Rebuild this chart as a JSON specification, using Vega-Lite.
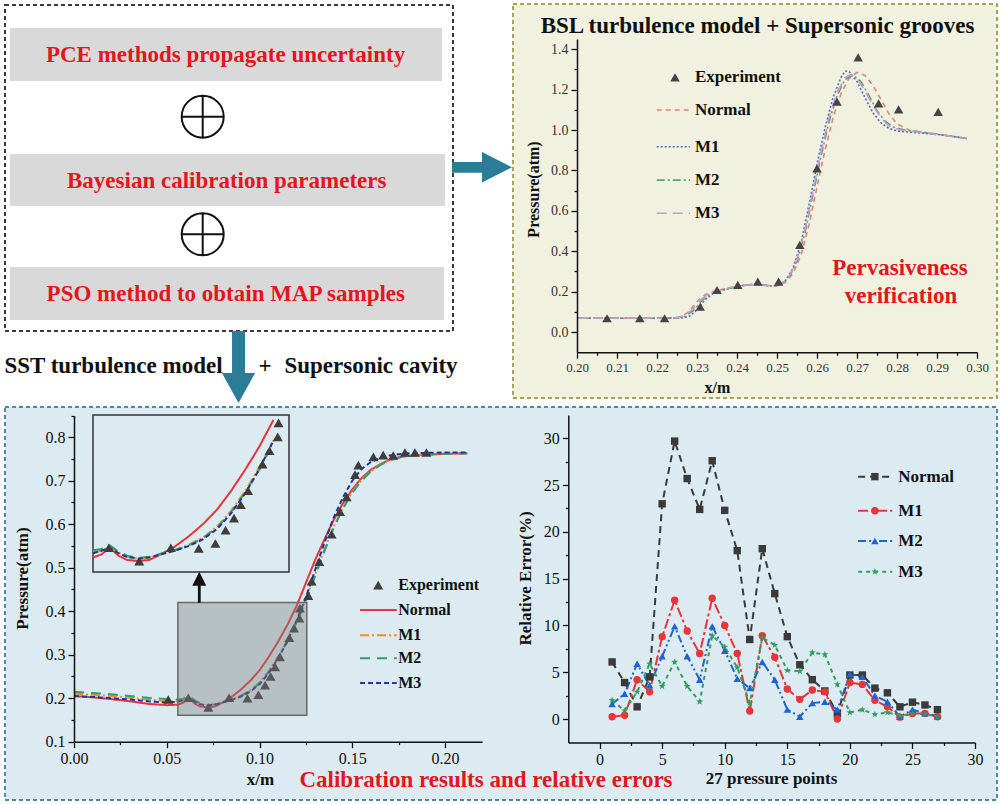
{
"$schema":"https://vega.github.io/schema/vega-lite/v6.json",
"width":1002,"height":804,"autosize":{"type":"none"},"padding":0,"background":"#ffffff",
"config":{
 "view":{"stroke":null},
 "axis":{"grid":false,"zindex":1,"labelFont":"Liberation Serif","titleFont":"Liberation Serif","labelColor":"#111","titleColor":"#111","domainColor":"#111","tickColor":"#111","domainWidth":1.5,"tickWidth":1.3,"tickSize":5,"labelFontSize":16,"titleFontSize":17,"titleFontWeight":"bold","labelFlush":false,"labelOverlap":false,"labelPadding":3},
 "text":{"font":"Liberation Serif"},
 "line":{"strokeCap":"butt"}
},
"datasets":{
 "panels":[{"panel":"flow","x":5,"x2":453,"y":5,"y2":331},{"panel":"bsl","x":513,"x2":997,"y":4,"y2":398},{"panel":"sst","x":5,"x2":997,"y":407,"y2":800}],
 "steps":[{"x":10,"x2":442,"y":28,"y2":81},{"x":10,"x2":445,"y":154,"y2":206},{"x":10,"x2":444,"y":267,"y2":320}],
 "oplus":[{"x":202.7,"y":116.7},{"x":202.7,"y":234.3}],
 "arrows":[{"arrow":"to BSL","x":482,"y":167.3},{"arrow":"to SST","x":238.5,"y":367},{"arrow":"zoom","x":199.3,"y":587.3}],
 "frames":[{"x":93,"x2":289,"y":415,"y2":572}],
 "black_text":[{"text":"BSL turbulence model + Supersonic grooves","x":757.5,"y":26},{"text":"SST turbulence model","x":113.5,"y":366},{"text":"+","x":265,"y":366},{"text":"Supersonic cavity","x":371,"y":366}],
 "red_text":[{"text":"PCE methods propagate uncertainty","x":225.5,"y":55},{"text":"Bayesian calibration parameters","x":226.7,"y":181},{"text":"PSO method to obtain MAP samples","x":225.8,"y":294},{"text":"Pervasiveness","x":900,"y":267.5},{"text":"verification","x":901,"y":295.5},{"text":"Calibration results and relative errors","x":486,"y":780}],
 "bsl":[
  {"s":"Normal","x":0.2,"p":0.068},{"s":"Normal","x":0.21,"p":0.068},{"s":"Normal","x":0.22,"p":0.068},{"s":"Normal","x":0.224,"p":0.069},{"s":"Normal","x":0.226,"p":0.076},{"s":"Normal","x":0.228,"p":0.1},{"s":"Normal","x":0.23,"p":0.15},{"s":"Normal","x":0.232,"p":0.185},{"s":"Normal","x":0.234,"p":0.2},{"s":"Normal","x":0.236,"p":0.21},{"s":"Normal","x":0.238,"p":0.218},{"s":"Normal","x":0.24,"p":0.225},{"s":"Normal","x":0.242,"p":0.232},{"s":"Normal","x":0.244,"p":0.236},{"s":"Normal","x":0.246,"p":0.236},{"s":"Normal","x":0.248,"p":0.229},{"s":"Normal","x":0.25,"p":0.228},{"s":"Normal","x":0.252,"p":0.245},{"s":"Normal","x":0.254,"p":0.29},{"s":"Normal","x":0.256,"p":0.38},{"s":"Normal","x":0.258,"p":0.53},{"s":"Normal","x":0.26,"p":0.72},{"s":"Normal","x":0.262,"p":0.9},{"s":"Normal","x":0.264,"p":1.06},{"s":"Normal","x":0.266,"p":1.18},{"s":"Normal","x":0.268,"p":1.255},{"s":"Normal","x":0.27,"p":1.285},{"s":"Normal","x":0.272,"p":1.27},{"s":"Normal","x":0.274,"p":1.22},{"s":"Normal","x":0.276,"p":1.15},{"s":"Normal","x":0.278,"p":1.08},{"s":"Normal","x":0.28,"p":1.03},{"s":"Normal","x":0.283,"p":1.0},{"s":"Normal","x":0.286,"p":0.99},{"s":"Normal","x":0.29,"p":0.98},{"s":"Normal","x":0.294,"p":0.968},{"s":"Normal","x":0.2975,"p":0.958},
  {"s":"M1","x":0.2,"p":0.068},{"s":"M1","x":0.21,"p":0.068},{"s":"M1","x":0.22,"p":0.068},{"s":"M1","x":0.226,"p":0.069},{"s":"M1","x":0.228,"p":0.076},{"s":"M1","x":0.23,"p":0.11},{"s":"M1","x":0.232,"p":0.16},{"s":"M1","x":0.234,"p":0.19},{"s":"M1","x":0.236,"p":0.205},{"s":"M1","x":0.238,"p":0.215},{"s":"M1","x":0.24,"p":0.225},{"s":"M1","x":0.242,"p":0.232},{"s":"M1","x":0.244,"p":0.235},{"s":"M1","x":0.246,"p":0.235},{"s":"M1","x":0.248,"p":0.228},{"s":"M1","x":0.25,"p":0.23},{"s":"M1","x":0.252,"p":0.252},{"s":"M1","x":0.254,"p":0.315},{"s":"M1","x":0.256,"p":0.44},{"s":"M1","x":0.258,"p":0.63},{"s":"M1","x":0.26,"p":0.83},{"s":"M1","x":0.262,"p":1.01},{"s":"M1","x":0.264,"p":1.16},{"s":"M1","x":0.266,"p":1.26},{"s":"M1","x":0.267,"p":1.292},{"s":"M1","x":0.268,"p":1.29},{"s":"M1","x":0.27,"p":1.24},{"s":"M1","x":0.272,"p":1.16},{"s":"M1","x":0.274,"p":1.085},{"s":"M1","x":0.276,"p":1.035},{"s":"M1","x":0.278,"p":1.008},{"s":"M1","x":0.28,"p":0.995},{"s":"M1","x":0.283,"p":0.99},{"s":"M1","x":0.286,"p":0.985},{"s":"M1","x":0.29,"p":0.978},{"s":"M1","x":0.294,"p":0.968},{"s":"M1","x":0.2975,"p":0.958},
  {"s":"M2","x":0.2,"p":0.068},{"s":"M2","x":0.21,"p":0.068},{"s":"M2","x":0.22,"p":0.068},{"s":"M2","x":0.225,"p":0.069},{"s":"M2","x":0.227,"p":0.078},{"s":"M2","x":0.229,"p":0.105},{"s":"M2","x":0.231,"p":0.15},{"s":"M2","x":0.233,"p":0.185},{"s":"M2","x":0.235,"p":0.202},{"s":"M2","x":0.237,"p":0.212},{"s":"M2","x":0.239,"p":0.22},{"s":"M2","x":0.241,"p":0.228},{"s":"M2","x":0.243,"p":0.234},{"s":"M2","x":0.245,"p":0.236},{"s":"M2","x":0.247,"p":0.233},{"s":"M2","x":0.249,"p":0.228},{"s":"M2","x":0.251,"p":0.236},{"s":"M2","x":0.253,"p":0.27},{"s":"M2","x":0.255,"p":0.35},{"s":"M2","x":0.257,"p":0.49},{"s":"M2","x":0.259,"p":0.68},{"s":"M2","x":0.261,"p":0.87},{"s":"M2","x":0.263,"p":1.04},{"s":"M2","x":0.265,"p":1.17},{"s":"M2","x":0.267,"p":1.25},{"s":"M2","x":0.269,"p":1.272},{"s":"M2","x":0.271,"p":1.24},{"s":"M2","x":0.273,"p":1.17},{"s":"M2","x":0.275,"p":1.095},{"s":"M2","x":0.277,"p":1.045},{"s":"M2","x":0.279,"p":1.015},{"s":"M2","x":0.282,"p":1.0},{"s":"M2","x":0.286,"p":0.99},{"s":"M2","x":0.29,"p":0.979},{"s":"M2","x":0.294,"p":0.968},{"s":"M2","x":0.2975,"p":0.958},
  {"s":"M3","x":0.2,"p":0.068},{"s":"M3","x":0.21,"p":0.068},{"s":"M3","x":0.22,"p":0.068},{"s":"M3","x":0.225,"p":0.07},{"s":"M3","x":0.227,"p":0.082},{"s":"M3","x":0.229,"p":0.115},{"s":"M3","x":0.231,"p":0.16},{"s":"M3","x":0.233,"p":0.19},{"s":"M3","x":0.235,"p":0.204},{"s":"M3","x":0.237,"p":0.214},{"s":"M3","x":0.239,"p":0.222},{"s":"M3","x":0.241,"p":0.229},{"s":"M3","x":0.243,"p":0.234},{"s":"M3","x":0.245,"p":0.235},{"s":"M3","x":0.247,"p":0.231},{"s":"M3","x":0.249,"p":0.228},{"s":"M3","x":0.251,"p":0.238},{"s":"M3","x":0.253,"p":0.275},{"s":"M3","x":0.255,"p":0.36},{"s":"M3","x":0.257,"p":0.505},{"s":"M3","x":0.259,"p":0.7},{"s":"M3","x":0.261,"p":0.89},{"s":"M3","x":0.263,"p":1.06},{"s":"M3","x":0.265,"p":1.185},{"s":"M3","x":0.267,"p":1.26},{"s":"M3","x":0.2685,"p":1.275},{"s":"M3","x":0.27,"p":1.255},{"s":"M3","x":0.272,"p":1.195},{"s":"M3","x":0.274,"p":1.12},{"s":"M3","x":0.276,"p":1.06},{"s":"M3","x":0.278,"p":1.02},{"s":"M3","x":0.281,"p":1.0},{"s":"M3","x":0.285,"p":0.99},{"s":"M3","x":0.29,"p":0.979},{"s":"M3","x":0.294,"p":0.968},{"s":"M3","x":0.2975,"p":0.958}
 ],
 "bsl_exp":[{"x":0.2075,"p":0.068},{"x":0.2157,"p":0.068},{"x":0.2219,"p":0.068},{"x":0.2308,"p":0.125},{"x":0.235,"p":0.208},{"x":0.2402,"p":0.233},{"x":0.2452,"p":0.249},{"x":0.2504,"p":0.249},{"x":0.2557,"p":0.431},{"x":0.26,"p":0.81},{"x":0.265,"p":1.14},{"x":0.2703,"p":1.36},{"x":0.2754,"p":1.132},{"x":0.2804,"p":1.102},{"x":0.2903,"p":1.09}],
 "bsl_leg":[{"s":"Experiment","y":1.26},{"s":"Normal","y":1.099},{"s":"M1","y":0.917},{"s":"M2","y":0.752},{"s":"M3","y":0.588}],
 "bl":[
  {"s":"Normal","x":0,"p":0.205},{"s":"Normal","x":0.01,"p":0.202},{"s":"Normal","x":0.02,"p":0.198},{"s":"Normal","x":0.03,"p":0.193},{"s":"Normal","x":0.04,"p":0.187},{"s":"Normal","x":0.05,"p":0.184},{"s":"Normal","x":0.056,"p":0.185},{"s":"Normal","x":0.059,"p":0.19},{"s":"Normal","x":0.062,"p":0.201},{"s":"Normal","x":0.065,"p":0.188},{"s":"Normal","x":0.068,"p":0.181},{"s":"Normal","x":0.072,"p":0.179},{"s":"Normal","x":0.076,"p":0.181},{"s":"Normal","x":0.08,"p":0.19},{"s":"Normal","x":0.085,"p":0.203},{"s":"Normal","x":0.09,"p":0.22},{"s":"Normal","x":0.095,"p":0.24},{"s":"Normal","x":0.1,"p":0.264},{"s":"Normal","x":0.105,"p":0.295},{"s":"Normal","x":0.11,"p":0.33},{"s":"Normal","x":0.115,"p":0.368},{"s":"Normal","x":0.12,"p":0.412},{"s":"Normal","x":0.125,"p":0.465},{"s":"Normal","x":0.13,"p":0.518},{"s":"Normal","x":0.135,"p":0.565},{"s":"Normal","x":0.14,"p":0.61},{"s":"Normal","x":0.145,"p":0.648},{"s":"Normal","x":0.15,"p":0.68},{"s":"Normal","x":0.155,"p":0.706},{"s":"Normal","x":0.16,"p":0.725},{"s":"Normal","x":0.165,"p":0.738},{"s":"Normal","x":0.17,"p":0.748},{"s":"Normal","x":0.175,"p":0.754},{"s":"Normal","x":0.18,"p":0.757},{"s":"Normal","x":0.19,"p":0.76},{"s":"Normal","x":0.2,"p":0.762},{"s":"Normal","x":0.212,"p":0.763},
  {"s":"M1","x":0,"p":0.21},{"s":"M1","x":0.01,"p":0.208},{"s":"M1","x":0.02,"p":0.205},{"s":"M1","x":0.03,"p":0.201},{"s":"M1","x":0.04,"p":0.197},{"s":"M1","x":0.05,"p":0.193},{"s":"M1","x":0.056,"p":0.193},{"s":"M1","x":0.059,"p":0.196},{"s":"M1","x":0.062,"p":0.203},{"s":"M1","x":0.065,"p":0.193},{"s":"M1","x":0.068,"p":0.186},{"s":"M1","x":0.072,"p":0.183},{"s":"M1","x":0.076,"p":0.185},{"s":"M1","x":0.08,"p":0.19},{"s":"M1","x":0.085,"p":0.197},{"s":"M1","x":0.09,"p":0.206},{"s":"M1","x":0.095,"p":0.218},{"s":"M1","x":0.1,"p":0.236},{"s":"M1","x":0.105,"p":0.262},{"s":"M1","x":0.11,"p":0.295},{"s":"M1","x":0.115,"p":0.334},{"s":"M1","x":0.12,"p":0.378},{"s":"M1","x":0.125,"p":0.428},{"s":"M1","x":0.13,"p":0.485},{"s":"M1","x":0.135,"p":0.542},{"s":"M1","x":0.14,"p":0.595},{"s":"M1","x":0.145,"p":0.638},{"s":"M1","x":0.15,"p":0.674},{"s":"M1","x":0.155,"p":0.702},{"s":"M1","x":0.16,"p":0.722},{"s":"M1","x":0.165,"p":0.737},{"s":"M1","x":0.17,"p":0.747},{"s":"M1","x":0.175,"p":0.753},{"s":"M1","x":0.18,"p":0.757},{"s":"M1","x":0.19,"p":0.76},{"s":"M1","x":0.2,"p":0.762},{"s":"M1","x":0.212,"p":0.763},
  {"s":"M2","x":0,"p":0.215},{"s":"M2","x":0.01,"p":0.212},{"s":"M2","x":0.02,"p":0.209},{"s":"M2","x":0.03,"p":0.205},{"s":"M2","x":0.04,"p":0.201},{"s":"M2","x":0.05,"p":0.198},{"s":"M2","x":0.056,"p":0.197},{"s":"M2","x":0.059,"p":0.199},{"s":"M2","x":0.062,"p":0.205},{"s":"M2","x":0.065,"p":0.195},{"s":"M2","x":0.068,"p":0.188},{"s":"M2","x":0.072,"p":0.184},{"s":"M2","x":0.076,"p":0.186},{"s":"M2","x":0.08,"p":0.191},{"s":"M2","x":0.085,"p":0.197},{"s":"M2","x":0.09,"p":0.205},{"s":"M2","x":0.095,"p":0.217},{"s":"M2","x":0.1,"p":0.234},{"s":"M2","x":0.105,"p":0.26},{"s":"M2","x":0.11,"p":0.292},{"s":"M2","x":0.115,"p":0.33},{"s":"M2","x":0.12,"p":0.374},{"s":"M2","x":0.125,"p":0.424},{"s":"M2","x":0.13,"p":0.481},{"s":"M2","x":0.135,"p":0.538},{"s":"M2","x":0.14,"p":0.592},{"s":"M2","x":0.145,"p":0.636},{"s":"M2","x":0.15,"p":0.672},{"s":"M2","x":0.155,"p":0.7},{"s":"M2","x":0.16,"p":0.721},{"s":"M2","x":0.165,"p":0.736},{"s":"M2","x":0.17,"p":0.746},{"s":"M2","x":0.175,"p":0.753},{"s":"M2","x":0.18,"p":0.757},{"s":"M2","x":0.19,"p":0.76},{"s":"M2","x":0.2,"p":0.762},{"s":"M2","x":0.212,"p":0.763},
  {"s":"M3","x":0,"p":0.205},{"s":"M3","x":0.01,"p":0.203},{"s":"M3","x":0.02,"p":0.2},{"s":"M3","x":0.03,"p":0.197},{"s":"M3","x":0.04,"p":0.193},{"s":"M3","x":0.05,"p":0.19},{"s":"M3","x":0.056,"p":0.192},{"s":"M3","x":0.059,"p":0.196},{"s":"M3","x":0.062,"p":0.201},{"s":"M3","x":0.065,"p":0.192},{"s":"M3","x":0.068,"p":0.186},{"s":"M3","x":0.072,"p":0.183},{"s":"M3","x":0.076,"p":0.185},{"s":"M3","x":0.08,"p":0.19},{"s":"M3","x":0.085,"p":0.196},{"s":"M3","x":0.09,"p":0.204},{"s":"M3","x":0.095,"p":0.215},{"s":"M3","x":0.1,"p":0.232},{"s":"M3","x":0.105,"p":0.258},{"s":"M3","x":0.11,"p":0.291},{"s":"M3","x":0.115,"p":0.331},{"s":"M3","x":0.12,"p":0.378},{"s":"M3","x":0.125,"p":0.432},{"s":"M3","x":0.13,"p":0.495},{"s":"M3","x":0.135,"p":0.558},{"s":"M3","x":0.14,"p":0.615},{"s":"M3","x":0.145,"p":0.662},{"s":"M3","x":0.15,"p":0.7},{"s":"M3","x":0.155,"p":0.727},{"s":"M3","x":0.16,"p":0.743},{"s":"M3","x":0.165,"p":0.752},{"s":"M3","x":0.17,"p":0.758},{"s":"M3","x":0.175,"p":0.761},{"s":"M3","x":0.18,"p":0.763},{"s":"M3","x":0.19,"p":0.764},{"s":"M3","x":0.2,"p":0.765},{"s":"M3","x":0.212,"p":0.765}
 ],
 "bl_exp":[{"x":0.0508,"p":0.197},{"x":0.0616,"p":0.201},{"x":0.0724,"p":0.179},{"x":0.0836,"p":0.201},{"x":0.0935,"p":0.2},{"x":0.0994,"p":0.208},{"x":0.103,"p":0.23},{"x":0.106,"p":0.25},{"x":0.1084,"p":0.272},{"x":0.111,"p":0.295},{"x":0.1161,"p":0.339},{"x":0.1186,"p":0.361},{"x":0.1215,"p":0.384},{"x":0.1218,"p":0.407},{"x":0.1263,"p":0.436},{"x":0.1281,"p":0.469},{"x":0.1322,"p":0.514},{"x":0.1389,"p":0.577},{"x":0.1434,"p":0.629},{"x":0.147,"p":0.663},{"x":0.1515,"p":0.714},{"x":0.1533,"p":0.736},{"x":0.1614,"p":0.755},{"x":0.1667,"p":0.759},{"x":0.1721,"p":0.758},{"x":0.1784,"p":0.765},{"x":0.1838,"p":0.765},{"x":0.19,"p":0.765}],
 "bl_leg":[{"s":"Experiment","y":0.46},{"s":"Normal","y":0.403},{"s":"M1","y":0.345},{"s":"M2","y":0.292},{"s":"M3","y":0.235}],
 "bl_zoom":[{"x":0.056,"x2":0.1255,"y":0.161,"y2":0.42}],
 "err":[
  {"pt":1,"Normal":6.1,"M1":0.25,"M2":1.6,"M3":2.0},{"pt":2,"Normal":3.9,"M1":0.4,"M2":2.7,"M3":0.9},{"pt":3,"Normal":1.3,"M1":4.2,"M2":5.9,"M3":2.9},{"pt":4,"Normal":4.5,"M1":2.9,"M2":3.6,"M3":5.9},{"pt":5,"Normal":23.0,"M1":8.8,"M2":6.7,"M3":3.5},{"pt":6,"Normal":29.7,"M1":12.7,"M2":9.9,"M3":6.1},{"pt":7,"Normal":25.7,"M1":9.4,"M2":6.7,"M3":3.5},{"pt":8,"Normal":22.4,"M1":7.0,"M2":4.2,"M3":1.85},{"pt":9,"Normal":27.6,"M1":12.9,"M2":9.9,"M3":8.9},{"pt":10,"Normal":22.3,"M1":10.0,"M2":7.3,"M3":7.7},{"pt":11,"Normal":18.0,"M1":7.0,"M2":4.3,"M3":5.5},{"pt":12,"Normal":8.5,"M1":0.85,"M2":3.3,"M3":1.7},{"pt":13,"Normal":18.2,"M1":8.9,"M2":6.1,"M3":8.7},{"pt":14,"Normal":13.4,"M1":6.6,"M2":4.2,"M3":7.9},{"pt":15,"Normal":8.8,"M1":3.2,"M2":1.0,"M3":5.2},{"pt":16,"Normal":5.8,"M1":2.1,"M2":0.25,"M3":5.1},{"pt":17,"Normal":4.2,"M1":3.1,"M2":1.7,"M3":7.1},{"pt":18,"Normal":3.0,"M1":2.9,"M2":1.85,"M3":6.9},{"pt":19,"Normal":0.6,"M1":0.0,"M2":1.0,"M3":3.7},{"pt":20,"Normal":4.7,"M1":3.9,"M2":4.8,"M3":0.7},{"pt":21,"Normal":4.7,"M1":3.7,"M2":4.5,"M3":1.0},{"pt":22,"Normal":3.3,"M1":2.0,"M2":2.5,"M3":0.5},{"pt":23,"Normal":2.8,"M1":1.3,"M2":1.85,"M3":0.7},{"pt":24,"Normal":1.3,"M1":0.2,"M2":0.25,"M3":0.35},{"pt":25,"Normal":1.8,"M1":0.6,"M2":1.0,"M3":0.6},{"pt":26,"Normal":1.5,"M1":0.6,"M2":0.6,"M3":0.55},{"pt":27,"Normal":1.0,"M1":0.25,"M2":0.3,"M3":0.25}
 ],
 "err_leg":[{"s":"Normal","y":25.9},{"s":"M1","y":22.26},{"s":"M2","y":19.02},{"s":"M3","y":15.74}]
},
"layer":[
  {"data":{"name":"panels"},"mark":{"type":"rect","strokeWidth":2,"strokeDash":[4,3]},"encoding":{
   "x":{"field":"x","type":"quantitative","scale":{"domain":[0,1002],"range":[0,1002],"nice":false,"zero":false},"axis":null},
   "x2":{"field":"x2"},
   "y":{"field":"y","type":"quantitative","scale":{"domain":[0,804],"range":[0,804],"nice":false,"zero":false},"axis":null},
   "y2":{"field":"y2"},
   "fill":{"field":"panel","type":"nominal","scale":{"domain":["flow","bsl","sst"],"range":["#ffffff","#f0f1de","#dcebf1"]},"legend":null},
   "stroke":{"field":"panel","type":"nominal","scale":{"domain":["flow","bsl","sst"],"range":["#3a3a3a","#a9a35a","#4d8ba3"]},"legend":null}}},
  {"data":{"name":"steps"},"mark":{"type":"rect","color":"#d9d9d9"},"encoding":{
   "x":{"field":"x","type":"quantitative","scale":{"domain":[0,1002],"range":[0,1002],"nice":false,"zero":false},"axis":null},"x2":{"field":"x2"},
   "y":{"field":"y","type":"quantitative","scale":{"domain":[0,804],"range":[0,804],"nice":false,"zero":false},"axis":null},"y2":{"field":"y2"}}},
  {"data":{"name":"frames"},"mark":{"type":"rect","fill":"#dcebf1","stroke":"#333333","strokeWidth":1.5},"encoding":{
   "x":{"field":"x","type":"quantitative","scale":{"domain":[0,1002],"range":[0,1002],"nice":false,"zero":false},"axis":null},"x2":{"field":"x2"},
   "y":{"field":"y","type":"quantitative","scale":{"domain":[0,804],"range":[0,804],"nice":false,"zero":false},"axis":null},"y2":{"field":"y2"}}},
  {"data":{"name":"oplus"},"mark":{"type":"point","shape":"M-1,0A1,1,0,1,1,1,0A1,1,0,1,1,-1,0M-1,0L1,0M0,-1L0,1","size":1764,"filled":false,"stroke":"#111111","strokeWidth":2,"opacity":1},"encoding":{
   "x":{"field":"x","type":"quantitative","scale":{"domain":[0,1002],"range":[0,1002],"nice":false,"zero":false},"axis":null},
   "y":{"field":"y","type":"quantitative","scale":{"domain":[0,804],"range":[0,804],"nice":false,"zero":false},"axis":null}}},
  {"data":{"name":"arrows"},"transform":[{"filter":"datum.arrow == 'to BSL'"}],"mark":{"type":"point","shape":"M-1,-0.18L0,-0.18L0,-0.51L1,0L0,0.51L0,0.18L-1,0.18Z","size":3600,"filled":true,"color":"#2b7d97","opacity":1},"encoding":{
   "x":{"field":"x","type":"quantitative","scale":{"domain":[0,1002],"range":[0,1002],"nice":false,"zero":false},"axis":null},
   "y":{"field":"y","type":"quantitative","scale":{"domain":[0,804],"range":[0,804],"nice":false,"zero":false},"axis":null}}},
  {"data":{"name":"arrows"},"transform":[{"filter":"datum.arrow == 'to SST'"}],"mark":{"type":"point","shape":"M-0.18,-1L0.18,-1L0.18,0.17L0.46,0.17L0,1L-0.46,0.17L-0.18,0.17Z","size":5184,"filled":true,"color":"#2b7d97","opacity":1},"encoding":{
   "x":{"field":"x","type":"quantitative","scale":{"domain":[0,1002],"range":[0,1002],"nice":false,"zero":false},"axis":null},
   "y":{"field":"y","type":"quantitative","scale":{"domain":[0,804],"range":[0,804],"nice":false,"zero":false},"axis":null}}},
  {"data":{"name":"black_text"},"mark":{"type":"text","font":"Liberation Serif","fontWeight":"bold","fontSize":23,"color":"#111111","align":"center","baseline":"middle"},"encoding":{
   "x":{"field":"x","type":"quantitative","scale":{"domain":[0,1002],"range":[0,1002],"nice":false,"zero":false},"axis":null},
   "y":{"field":"y","type":"quantitative","scale":{"domain":[0,804],"range":[0,804],"nice":false,"zero":false},"axis":null},"text":{"field":"text"}}},
  {"data":{"name":"red_text"},"mark":{"type":"text","font":"Liberation Serif","fontWeight":"bold","fontSize":23,"color":"#e3161f","align":"center","baseline":"middle"},"encoding":{
   "x":{"field":"x","type":"quantitative","scale":{"domain":[0,1002],"range":[0,1002],"nice":false,"zero":false},"axis":null},
   "y":{"field":"y","type":"quantitative","scale":{"domain":[0,804],"range":[0,804],"nice":false,"zero":false},"axis":null},"text":{"field":"text"}}},

  {"data":{"name":"bsl"},"mark":{"type":"line","strokeWidth":1.6},"encoding":{
   "x":{"field":"x","type":"quantitative","scale":{"domain":[0.2,0.3],"range":[577,977],"nice":false,"zero":false},
        "axis":{"orient":"bottom","offset":-451.8,"zindex":1,"values":[0.2,0.205,0.21,0.215,0.22,0.225,0.23,0.235,0.24,0.245,0.25,0.255,0.26,0.265,0.27,0.275,0.28,0.285,0.29,0.295,0.3],"labelExpr":"abs(datum.value*100-round(datum.value*100))<0.01 ? format(datum.value,'.2f') : ''","tickSize":{"condition":{"test":"abs(datum.value*100-round(datum.value*100))<0.01","value":6},"value":3},"labelFontSize":13,"labelColor":"#333333","title":"x/m","titleX":717,"titleY":35,"titleBaseline":"middle","titleFontSize":16}},
   "y":{"field":"p","type":"quantitative","scale":{"domain":[-0.1,1.45],"range":[352.2,39.1],"nice":false,"zero":false},
        "axis":{"orient":"left","offset":-577,"zindex":1,"values":[0,0.1,0.2,0.3,0.4,0.5,0.6,0.7,0.8,0.9,1.0,1.1,1.2,1.3,1.4],"labelExpr":"abs(datum.value*5-round(datum.value*5))<0.01 ? format(datum.value,'.1f') : ''","tickSize":{"condition":{"test":"abs(datum.value*5-round(datum.value*5))<0.01","value":6},"value":3},"labelFontSize":14,"labelColor":"#333333","title":"Pressure(atm)","titleX":-44,"titleY":189,"titleBaseline":"middle","titleFontSize":16}},
   "color":{"field":"s","type":"nominal","scale":{"domain":["Normal","M1","M2","M3"],"range":["#e4837a","#4f6fbf","#5f9f80","#c79ac6"]},"legend":null},
   "strokeDash":{"field":"s","type":"nominal","scale":{"domain":["Normal","M1","M2","M3"],"range":[[5,4],[2,2],[8,3,2,3],[10,6]]},"legend":null}}},
  {"data":{"name":"bsl_exp"},"mark":{"type":"point","shape":"triangle-up","filled":true,"size":90,"color":"#444444","opacity":1},"encoding":{
   "x":{"field":"x","type":"quantitative","scale":{"domain":[0.2,0.3],"range":[577,977],"nice":false,"zero":false},"axis":null},
   "y":{"field":"p","type":"quantitative","scale":{"domain":[-0.1,1.45],"range":[352.2,39.1],"nice":false,"zero":false},"axis":null}}},
  {"data":{"name":"bsl_leg"},"transform":[{"filter":"datum.s != 'Experiment'"}],"mark":{"type":"rule","strokeWidth":1.6},"encoding":{
   "x":{"datum":0.21993,"type":"quantitative","scale":{"domain":[0.2,0.3],"range":[577,977],"nice":false,"zero":false},"axis":null},"x2":{"datum":0.22825},
   "y":{"field":"y","type":"quantitative","scale":{"domain":[-0.1,1.45],"range":[352.2,39.1],"nice":false,"zero":false},"axis":null},
   "color":{"field":"s","type":"nominal","scale":{"domain":["Normal","M1","M2","M3"],"range":["#e4837a","#4f6fbf","#5f9f80","#c79ac6"]},"legend":null},
   "strokeDash":{"field":"s","type":"nominal","scale":{"domain":["Normal","M1","M2","M3"],"range":[[5,4],[2,2],[8,3,2,3],[10,6]]},"legend":null}}},
  {"data":{"name":"bsl_leg"},"transform":[{"filter":"datum.s == 'Experiment'"}],"mark":{"type":"point","shape":"triangle-up","filled":true,"size":90,"color":"#444444","opacity":1},"encoding":{
   "x":{"datum":0.2245,"type":"quantitative","scale":{"domain":[0.2,0.3],"range":[577,977],"nice":false,"zero":false},"axis":null},
   "y":{"field":"y","type":"quantitative","scale":{"domain":[-0.1,1.45],"range":[352.2,39.1],"nice":false,"zero":false},"axis":null}}},
  {"data":{"name":"bsl_leg"},"mark":{"type":"text","font":"Liberation Serif","fontWeight":"bold","fontSize":17,"color":"#111111","align":"left","baseline":"middle"},"encoding":{
   "x":{"datum":0.2295,"type":"quantitative","scale":{"domain":[0.2,0.3],"range":[577,977],"nice":false,"zero":false},"axis":null},
   "y":{"field":"y","type":"quantitative","scale":{"domain":[-0.1,1.45],"range":[352.2,39.1],"nice":false,"zero":false},"axis":null},"text":{"field":"s"}}},

  {"data":{"name":"bl"},"mark":{"type":"line","strokeWidth":2},"encoding":{
   "x":{"field":"x","type":"quantitative","scale":{"domain":[0,0.22],"range":[74,482.1],"nice":false,"zero":false},
        "axis":{"orient":"bottom","offset":-62.3,"zindex":1,"values":[0,0.025,0.05,0.075,0.1,0.125,0.15,0.175,0.2],"labelExpr":"abs(datum.value*20-round(datum.value*20))<0.01 ? format(datum.value,'.2f') : ''","tickSize":{"condition":{"test":"abs(datum.value*20-round(datum.value*20))<0.01","value":6},"value":3},"title":"x/m","titleX":260,"titleY":38,"titleBaseline":"middle"}},
   "y":{"field":"p","type":"quantitative","scale":{"domain":[0.1,0.85],"range":[741.7,415.5],"nice":false,"zero":false},
        "axis":{"orient":"left","offset":-74,"zindex":1,"values":[0.1,0.15,0.2,0.25,0.3,0.35,0.4,0.45,0.5,0.55,0.6,0.65,0.7,0.75,0.8,0.85],"labelExpr":"abs(datum.value*10-round(datum.value*10))<0.01 ? format(datum.value,'.1f') : ''","tickSize":{"condition":{"test":"abs(datum.value*10-round(datum.value*10))<0.01","value":6},"value":3},"title":"Pressure(atm)","titleX":-52,"titleY":578,"titleBaseline":"middle"}},
   "color":{"field":"s","type":"nominal","scale":{"domain":["Normal","M1","M2","M3"],"range":["#e8353b","#f28c28","#2f9e73","#23339e"]},"legend":null},
   "strokeDash":{"field":"s","type":"nominal","scale":{"domain":["Normal","M1","M2","M3"],"range":[[1,0],[9,3,2,3],[10,7],[5,3]]},"legend":null}}},
  {"data":{"name":"bl_exp"},"mark":{"type":"point","shape":"triangle-up","filled":true,"size":100,"color":"#3d3d3d","opacity":1},"encoding":{
   "x":{"field":"x","type":"quantitative","scale":{"domain":[0,0.22],"range":[74,482.1],"nice":false,"zero":false},"axis":null},
   "y":{"field":"p","type":"quantitative","scale":{"domain":[0.1,0.85],"range":[741.7,415.5],"nice":false,"zero":false},"axis":null}}},
  {"data":{"name":"bl_zoom"},"mark":{"type":"rect","fill":"#7f7f7f","fillOpacity":0.4,"stroke":"#6a6a6a","strokeWidth":1.5},"encoding":{
   "x":{"field":"x","type":"quantitative","scale":{"domain":[0,0.22],"range":[74,482.1],"nice":false,"zero":false},"axis":null},"x2":{"field":"x2"},
   "y":{"field":"y","type":"quantitative","scale":{"domain":[0.1,0.85],"range":[741.7,415.5],"nice":false,"zero":false},"axis":null},"y2":{"field":"y2"}}},
  {"data":{"name":"arrows"},"transform":[{"filter":"datum.arrow == 'zoom'"}],"mark":{"type":"point","shape":"M0,-1L0.45,-0.1L0.09,-0.1L0.09,1L-0.09,1L-0.09,-0.1L-0.45,-0.1Z","size":961,"filled":true,"color":"#111111","opacity":1},"encoding":{
   "x":{"field":"x","type":"quantitative","scale":{"domain":[0,1002],"range":[0,1002],"nice":false,"zero":false},"axis":null},
   "y":{"field":"y","type":"quantitative","scale":{"domain":[0,804],"range":[0,804],"nice":false,"zero":false},"axis":null}}},
  {"data":{"name":"bl_leg"},"transform":[{"filter":"datum.s != 'Experiment'"}],"mark":{"type":"rule","strokeWidth":2},"encoding":{
   "x":{"datum":0.1542,"type":"quantitative","scale":{"domain":[0,0.22],"range":[74,482.1],"nice":false,"zero":false},"axis":null},"x2":{"datum":0.174},
   "y":{"field":"y","type":"quantitative","scale":{"domain":[0.1,0.85],"range":[741.7,415.5],"nice":false,"zero":false},"axis":null},
   "color":{"field":"s","type":"nominal","scale":{"domain":["Normal","M1","M2","M3"],"range":["#e8353b","#f28c28","#2f9e73","#23339e"]},"legend":null},
   "strokeDash":{"field":"s","type":"nominal","scale":{"domain":["Normal","M1","M2","M3"],"range":[[1,0],[9,3,2,3],[10,7],[5,3]]},"legend":null}}},
  {"data":{"name":"bl_leg"},"transform":[{"filter":"datum.s == 'Experiment'"}],"mark":{"type":"point","shape":"triangle-up","filled":true,"size":100,"color":"#3d3d3d","opacity":1},"encoding":{
   "x":{"datum":0.164,"type":"quantitative","scale":{"domain":[0,0.22],"range":[74,482.1],"nice":false,"zero":false},"axis":null},
   "y":{"field":"y","type":"quantitative","scale":{"domain":[0.1,0.85],"range":[741.7,415.5],"nice":false,"zero":false},"axis":null}}},
  {"data":{"name":"bl_leg"},"mark":{"type":"text","font":"Liberation Serif","fontWeight":"bold","fontSize":16,"color":"#111111","align":"left","baseline":"middle"},"encoding":{
   "x":{"datum":0.1748,"type":"quantitative","scale":{"domain":[0,0.22],"range":[74,482.1],"nice":false,"zero":false},"axis":null},
   "y":{"field":"y","type":"quantitative","scale":{"domain":[0.1,0.85],"range":[741.7,415.5],"nice":false,"zero":false},"axis":null},"text":{"field":"s"}}},

  {"data":{"name":"bl"},"transform":[{"filter":"datum.x >= 0.056 && datum.x <= 0.1255 && datum.p <= 0.42"}],"mark":{"type":"line","strokeWidth":2},"encoding":{
   "x":{"field":"x","type":"quantitative","scale":{"domain":[0.056,0.1255],"range":[93,289],"nice":false,"zero":false},"axis":null},
   "y":{"field":"p","type":"quantitative","scale":{"domain":[0.161,0.42],"range":[572,415],"nice":false,"zero":false},"axis":null},
   "color":{"field":"s","type":"nominal","scale":{"domain":["Normal","M1","M2","M3"],"range":["#e8353b","#f28c28","#2f9e73","#23339e"]},"legend":null},
   "strokeDash":{"field":"s","type":"nominal","scale":{"domain":["Normal","M1","M2","M3"],"range":[[1,0],[9,3,2,3],[10,7],[5,3]]},"legend":null}}},
  {"data":{"name":"bl_exp"},"transform":[{"filter":"datum.x >= 0.056 && datum.x <= 0.1255 && datum.p <= 0.42"}],"mark":{"type":"point","shape":"triangle-up","filled":true,"size":100,"color":"#3d3d3d","opacity":1},"encoding":{
   "x":{"field":"x","type":"quantitative","scale":{"domain":[0.056,0.1255],"range":[93,289],"nice":false,"zero":false},"axis":null},
   "y":{"field":"p","type":"quantitative","scale":{"domain":[0.161,0.42],"range":[572,415],"nice":false,"zero":false},"axis":null}}},

  {"data":{"name":"err"},"transform":[{"fold":["Normal","M1","M2","M3"],"as":["s","e"]}],"mark":{"type":"line","strokeWidth":2},"encoding":{
   "x":{"field":"pt","type":"quantitative","scale":{"domain":[-2.5,30],"range":[568.3,975],"nice":false,"zero":false},
        "axis":{"orient":"bottom","offset":-61.6,"zindex":1,"values":[0,2.5,5,7.5,10,12.5,15,17.5,20,22.5,25,27.5,30],"labelExpr":"abs(datum.value/5-round(datum.value/5))<0.01 ? format(datum.value,'d') : ''","tickSize":{"condition":{"test":"abs(datum.value/5-round(datum.value/5))<0.01","value":6},"value":3},"title":"27 pressure points","titleX":771,"titleY":36,"titleBaseline":"middle"}},
   "y":{"field":"e","type":"quantitative","scale":{"domain":[-2.5,32.5],"range":[742.4,414.9],"nice":false,"zero":false},
        "axis":{"orient":"left","offset":-568.3,"zindex":1,"values":[0,2.5,5,7.5,10,12.5,15,17.5,20,22.5,25,27.5,30],"labelExpr":"abs(datum.value/5-round(datum.value/5))<0.01 ? format(datum.value,'d') : ''","tickSize":{"condition":{"test":"abs(datum.value/5-round(datum.value/5))<0.01","value":6},"value":3},"title":"Relative Error(%)","titleX":-43,"titleY":578,"titleBaseline":"middle"}},
   "color":{"field":"s","type":"nominal","scale":{"domain":["Normal","M1","M2","M3"],"range":["#3a3a3a","#e8353b","#1f63d1","#2f9e5f"]},"legend":null},
   "strokeDash":{"field":"s","type":"nominal","scale":{"domain":["Normal","M1","M2","M3"],"range":[[7,5],[10,3,3,3],[8,3,2,3,2,3],[4,4]]},"legend":null}}},
  {"data":{"name":"err"},"transform":[{"fold":["Normal","M1","M2","M3"],"as":["s","e"]}],"mark":{"type":"point","filled":true,"size":55,"opacity":1},"encoding":{
   "x":{"field":"pt","type":"quantitative","scale":{"domain":[-2.5,30],"range":[568.3,975],"nice":false,"zero":false},"axis":null},
   "y":{"field":"e","type":"quantitative","scale":{"domain":[-2.5,32.5],"range":[742.4,414.9],"nice":false,"zero":false},"axis":null},
   "color":{"field":"s","type":"nominal","scale":{"domain":["Normal","M1","M2","M3"],"range":["#3a3a3a","#e8353b","#1f63d1","#2f9e5f"]},"legend":null},
   "shape":{"field":"s","type":"nominal","scale":{"domain":["Normal","M1","M2","M3"],"range":["square","circle","triangle-up","M0,-1L0.235,-0.324L0.951,-0.309L0.38,0.124L0.588,0.809L0,0.4L-0.588,0.809L-0.38,0.124L-0.951,-0.309L-0.235,-0.324Z"]},"legend":null}}},
  {"data":{"name":"err_leg"},"mark":{"type":"rule","strokeWidth":2},"encoding":{
   "x":{"datum":20.66,"type":"quantitative","scale":{"domain":[-2.5,30],"range":[568.3,975],"nice":false,"zero":false},"axis":null},"x2":{"datum":23.38},
   "y":{"field":"y","type":"quantitative","scale":{"domain":[-2.5,32.5],"range":[742.4,414.9],"nice":false,"zero":false},"axis":null},
   "color":{"field":"s","type":"nominal","scale":{"domain":["Normal","M1","M2","M3"],"range":["#3a3a3a","#e8353b","#1f63d1","#2f9e5f"]},"legend":null},
   "strokeDash":{"field":"s","type":"nominal","scale":{"domain":["Normal","M1","M2","M3"],"range":[[7,5],[10,3,3,3],[8,3,2,3,2,3],[4,4]]},"legend":null}}},
  {"data":{"name":"err_leg"},"mark":{"type":"point","filled":true,"size":55,"opacity":1},"encoding":{
   "x":{"datum":22.0,"type":"quantitative","scale":{"domain":[-2.5,30],"range":[568.3,975],"nice":false,"zero":false},"axis":null},
   "y":{"field":"y","type":"quantitative","scale":{"domain":[-2.5,32.5],"range":[742.4,414.9],"nice":false,"zero":false},"axis":null},
   "color":{"field":"s","type":"nominal","scale":{"domain":["Normal","M1","M2","M3"],"range":["#3a3a3a","#e8353b","#1f63d1","#2f9e5f"]},"legend":null},
   "shape":{"field":"s","type":"nominal","scale":{"domain":["Normal","M1","M2","M3"],"range":["square","circle","triangle-up","M0,-1L0.235,-0.324L0.951,-0.309L0.38,0.124L0.588,0.809L0,0.4L-0.588,0.809L-0.38,0.124L-0.951,-0.309L-0.235,-0.324Z"]},"legend":null}}},
  {"data":{"name":"err_leg"},"mark":{"type":"text","font":"Liberation Serif","fontWeight":"bold","fontSize":17,"color":"#111111","align":"left","baseline":"middle"},"encoding":{
   "x":{"datum":23.86,"type":"quantitative","scale":{"domain":[-2.5,30],"range":[568.3,975],"nice":false,"zero":false},"axis":null},
   "y":{"field":"y","type":"quantitative","scale":{"domain":[-2.5,32.5],"range":[742.4,414.9],"nice":false,"zero":false},"axis":null},"text":{"field":"s"}}}
],
"resolve":{"scale":{"x":"independent","y":"independent","color":"independent","strokeDash":"independent","shape":"independent","fill":"independent","stroke":"independent"},"axis":{"x":"independent","y":"independent"}}
}
